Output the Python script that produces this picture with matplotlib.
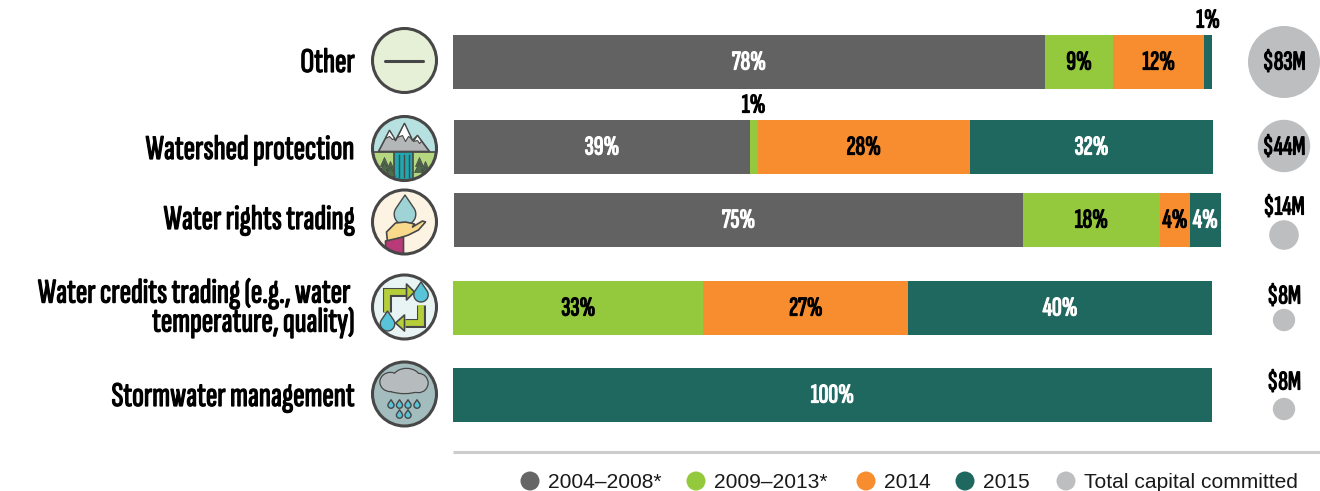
import numpy as np
import matplotlib
matplotlib.use('Agg')
import matplotlib.pyplot as plt
import matplotlib.patheffects as pe
from matplotlib.patches import Circle, Ellipse, Polygon

categories = ['Other', 'Watershed protection', 'Water rights trading',
              'Water credits trading (e.g., water \ntemperature, quality)', 'Stormwater management']
periods = ['2004–2008*', '2009–2013*', '2014', '2015']
share_0408 = [78, 39, 75, 0, 0]
share_0913 = [9, 1, 18, 33, 0]
share_2014 = [12, 28, 4, 27, 0]
share_2015 = [1, 32, 4, 40, 100]
capital = [83, 44, 14, 8, 8]
capital_labels = ['$83M', '$44M', '$14M', '$8M', '$8M']

colors = ['#616261', '#94c83d', '#f78d2f', '#1f6860']
text_colors = ['white', 'black', 'black', 'white']
bubble_color = '#bcbec0'
outline = '#474747'

row_y = [62, 147, 220, 308, 395]
row_shift = [0, 0.13, 0.13, 0, 0]
bubble_y = [62, 146, 235, 320, 409]
bubble_label_y = [63, 148, 208, 297, 383]
icon_y = [60.5, 148.5, 222, 307, 394]

narrow = ['Sofia Sans Extra Condensed', 'Barlow Condensed', 'Liberation Sans', 'DejaVu Sans']
plain = ['Liberation Sans', 'DejaVu Sans']

fig = plt.figure(figsize=(13.2, 4.91), dpi=100)
# one axes in pixels for the decoration, one in percent for the bars
ax = fig.add_axes([0, 0, 1, 1])
ax.set_xlim(0, 1320)
ax.set_ylim(491, 0)
ax.axis('off')
bars = fig.add_axes([453 / 1320, 0, 759 / 1320, 1])
bars.set_xlim(0, 100)
bars.set_ylim(491, 0)
bars.axis('off')
bars.patch.set_alpha(0)


# the condensed font only comes in a regular weight here, so thicken it with a stroke
def label(a, x, y, s, size=19.5, color='black', ha='center', **kw):
    a.text(x, y, s, fontsize=size, color=color, ha=ha, va='center', family=narrow,
           fontweight='bold', clip_on=False,
           path_effects=[pe.withStroke(linewidth=0.9, foreground=color)], **kw)


# bars
series = [share_0408, share_0913, share_2014, share_2015]
for i, y in enumerate(row_y):
    left = row_shift[i]
    for vals, col, tcol in zip(series, colors, text_colors):
        v = vals[i]
        if v == 0:
            continue
        bars.barh(y, v, left=left, height=54, color=col, linewidth=0, clip_on=False)
        mid = left + v / 2
        if v == 1:
            label(bars, mid, y - 41, '1%')
        else:
            label(bars, mid, y + 1, f'{v}%', color=tcol)
        left += v


# icons
def drop(cx, cy, h, col):
    w = h * 0.36
    t = np.linspace(-0.2 * np.pi, 1.2 * np.pi, 40)
    body = np.column_stack([cx + w * np.cos(t), cy + h * 0.14 + w * np.sin(t)])
    pts = np.vstack([[cx, cy - h * 0.5], body])
    ax.add_patch(Polygon(pts, closed=True, facecolor=col, edgecolor=outline, linewidth=1.0,
                         zorder=4, joinstyle='round'))


def base(cy, face, r=32):
    c = Circle((404.5, cy), r, facecolor=face, edgecolor='none', zorder=2)
    ax.add_patch(c)
    return c


def ring(cy, r=32):
    ax.add_patch(Circle((404.5, cy), r, facecolor='none', edgecolor=outline, linewidth=2.2, zorder=8))


def poly(pts, cy, face, clip=None, lw=1.2, z=3):
    p = Polygon([(404.5 + a, cy + b) for a, b in pts], closed=True, facecolor=face,
                edgecolor=outline, linewidth=lw, zorder=z, joinstyle='round')
    ax.add_patch(p)
    if clip is not None:
        p.set_clip_path(clip)


# Other
cy = icon_y[0]
base(cy, '#e6f0d6')
ax.plot([385, 423], [cy, cy], color=outline, lw=2.2, solid_capstyle='round', zorder=3)
ring(cy)

# Watershed
cy = icon_y[1]
c = base(cy, '#b7e0e0')
poly([(-40, 3), (40, 3), (40, 40), (-40, 40)], cy, '#b5d77f', c, z=2.5)
poly([(-26, 3), (-15, -18), (-9, -8), (0, -25), (8, -8), (13, -13), (25, 3)], cy, '#b4b7b8', c)
poly([(-15, -18), (-19, -10), (-15, -12), (-12, -9), (-10, -10)], cy, 'white', c, lw=0.8)
poly([(0, -25), (-7, -11), (-2, -13), (1, -7), (4, -12), (7, -10)], cy, 'white', c, lw=0.8)
poly([(13, -13), (9, -7), (13, -8), (15, -5), (17, -7)], cy, 'white', c, lw=0.8)
poly([(-11, 3), (8, 3), (8, 40), (-11, 40)], cy, '#20a8b0', c, z=3.5)
for dx in [-6, -1, 4]:
    ax.plot([404.5 + dx, 404.5 + dx], [cy + 6, cy + 28], color=outline, lw=1.0, zorder=4)
for dx, top in [(-20, 9), (-14, 13), (15, 9), (21, 13)]:
    poly([(dx, top), (dx - 4, top + 9), (dx + 4, top + 9)], cy, '#4d6b4a', c, lw=0.5, z=4)
    poly([(dx, top + 5), (dx - 5, top + 15), (dx + 5, top + 15)], cy, '#4d6b4a', c, lw=0.5, z=4)
ring(cy)

# Rights trading
cy = icon_y[2]
c = base(cy, '#fdf3e3')
drop(405, cy - 12, 30, '#9fd4d6')
poly([(-18, 10), (-9, 1), (1, 0), (10, 2), (8, 5), (18, -1), (21, 0), (14, 8), (4, 13), (-17, 20)],
     cy, '#f9d98c', c, z=5)
poly([(-19, 19), (-1, 15), (-1, 40), (-19, 40)], cy, '#b83a78', c, z=6)
ring(cy)

# Credits trading
cy = icon_y[3]
base(cy, '#e8f4f4')
for line, head in [
    ([(-18, 5), (-18, -15), (2, -15)], [(2, -23), (10, -15), (2, -7)]),
    ([(16, -2), (16, 16), (0, 16)], [(0, 8), (-9, 16), (0, 24)]),
]:
    xs = [404.5 + a for a, b in line]
    ys = [cy + b for a, b in line]
    ax.plot(xs, ys, color=outline, lw=6.5, solid_joinstyle='miter', solid_capstyle='butt', zorder=3)
    ax.plot(xs, ys, color='#b5cf3a', lw=4.2, solid_joinstyle='miter', solid_capstyle='butt', zorder=3.2)
    poly(head, cy, '#b5cf3a', lw=1.2, z=3.4)
drop(421, cy - 15, 20, '#58c4d8')
drop(387.5, cy + 14, 20, '#58c4d8')
ring(cy)

# Stormwater
cy = icon_y[4]
base(cy, '#a3bcbe')
blobs = [(-14, -12, 20, 18), (2, -16, 26, 18), (14, -11, 18, 18), (0, -9, 40, 16)]
for dx, dy, w, h in blobs:
    ax.add_patch(Ellipse((404.5 + dx, cy + dy), w, h, facecolor='#b6bcbe', edgecolor=outline, linewidth=1.8, zorder=3))
for dx, dy, w, h in blobs:
    ax.add_patch(Ellipse((404.5 + dx, cy + dy), w, h, facecolor='#b6bcbe', edgecolor='none', zorder=3.2))
for dx, dy in [(-13.5, 10), (-5, 10), (3.5, 10), (12.5, 10), (-5, 20), (3.5, 20)]:
    drop(404.5 + dx, cy + dy, 8.5, '#58c4d8')
ring(cy)

# category labels
for name, y in zip(categories, [63, 150, 220, 308, 397]):
    label(ax, 355, y, name, size=25, ha='right', ma='right', linespacing=0.95)

# capital bubbles, area follows the amount
for v, lab, by, ly in zip(capital, capital_labels, bubble_y, bubble_label_y):
    r = 36 * np.sqrt(v / capital[0])
    ax.add_patch(Circle((1284, by), r, facecolor=bubble_color, edgecolor='none', zorder=2))
    label(ax, 1284, ly, lab, size=19.5, zorder=3)

# rule and legend
ax.plot([453, 1320], [452, 452], color='#cccccc', lw=2.2, solid_capstyle='butt', clip_on=False)
legend_names = periods + ['Total capital committed']
legend_cols = ['#666666'] + colors[1:] + [bubble_color]
for x, name, col in zip([530, 696, 866, 965, 1066], legend_names, legend_cols):
    ax.add_patch(Circle((x, 481), 9.5, facecolor=col, edgecolor='none'))
    ax.text(x + 18, 482, name, fontsize=15.1, ha='left', va='center', family=plain, color='#1a1a1a')

fig.savefig('out.png', dpi=100, facecolor='white')
